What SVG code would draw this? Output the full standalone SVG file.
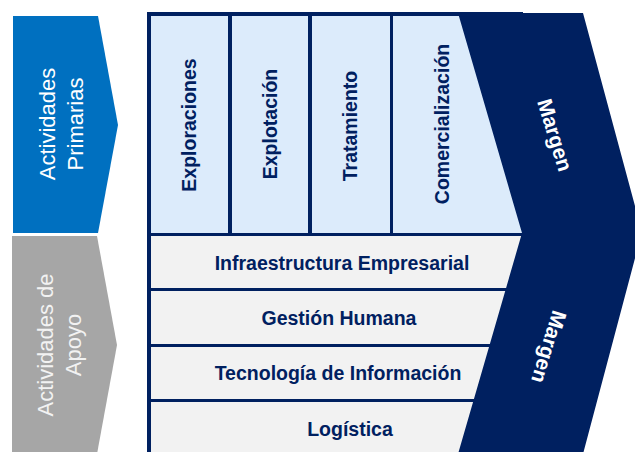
<svg xmlns="http://www.w3.org/2000/svg" width="635" height="452" viewBox="0 0 635 452">
  <style>
    .navy { fill: #002060; }
    .colcell { fill: #DCEBFB; }
    .rowcell { fill: #F2F2F2; }
    .lbl { font-family: "Liberation Sans", Arial, sans-serif; font-weight: bold; font-size: 19.5px; fill: #002060; text-anchor: middle; }
    .mlbl { font-family: "Liberation Sans", Arial, sans-serif; font-weight: bold; font-size: 21px; fill: #FFFFFF; text-anchor: middle; }
    .side { font-family: "Liberation Sans", Arial, sans-serif; font-size: 22px; text-anchor: middle; }
  </style>
  <rect width="635" height="452" fill="#FFFFFF"/>

  <g id="primarias">
    <polygon points="13,16 98,16 118,125 98,233 13,233" fill="#0070C0"/>
    <text class="side" fill="#FFFFFF" transform="translate(55,124) rotate(-90)">Actividades</text>
    <text class="side" fill="#FFFFFF" transform="translate(83,124) rotate(-90)">Primarias</text>
  </g>

  <g id="apoyo">
    <polygon points="12,236 97,236 117,345 97,454 12,454" fill="#A6A6A6"/>
    <text class="side" fill="#F2F2F2" transform="translate(53,345) rotate(-90)">Actividades de</text>
    <text class="side" fill="#F2F2F2" transform="translate(81,345) rotate(-90)">Apoyo</text>
  </g>

  <g id="frame">
    <rect class="navy" x="147" y="12" width="376" height="440"/>
  </g>

  <g id="exploraciones">
    <rect class="colcell" x="151" y="16" width="77" height="217"/>
    <text class="lbl" transform="translate(196,125) rotate(-90)">Exploraciones</text>
  </g>
  <g id="explotacion">
    <rect class="colcell" x="232" y="16" width="76" height="217"/>
    <text class="lbl" transform="translate(277,124) rotate(-90)">Explotación</text>
  </g>
  <g id="tratamiento">
    <rect class="colcell" x="312" y="16" width="78" height="217"/>
    <text class="lbl" transform="translate(357,126) rotate(-90)">Tratamiento</text>
  </g>
  <g id="comercializacion">
    <rect class="colcell" x="393" y="16" width="130" height="217"/>
    <text class="lbl" transform="translate(449,124) rotate(-90)">Comercialización</text>
  </g>

  <g id="infraestructura">
    <rect class="rowcell" x="151" y="236" width="372" height="52"/>
    <text class="lbl" x="342" y="270">Infraestructura Empresarial</text>
  </g>
  <g id="gestion">
    <rect class="rowcell" x="151" y="291" width="372" height="53"/>
    <text class="lbl" x="339" y="325">Gestión Humana</text>
  </g>
  <g id="tecnologia">
    <rect class="rowcell" x="151" y="347" width="372" height="52"/>
    <text class="lbl" x="338" y="380">Tecnología de Información</text>
  </g>
  <g id="logistica">
    <rect class="rowcell" x="151" y="402" width="372" height="52"/>
    <text class="lbl" x="350" y="436">Logística</text>
  </g>

  <g id="margen">
    <polygon class="navy" points="458,13 583,13 642,232 583,454 458,454 522,233"/>
    <text class="mlbl" dy="0.35em" transform="translate(555,135) rotate(73)">Margen</text>
    <text class="mlbl" dy="0.35em" transform="translate(549,347) rotate(107)">Margen</text>
  </g>

  <g id="connectors"></g>
</svg>
